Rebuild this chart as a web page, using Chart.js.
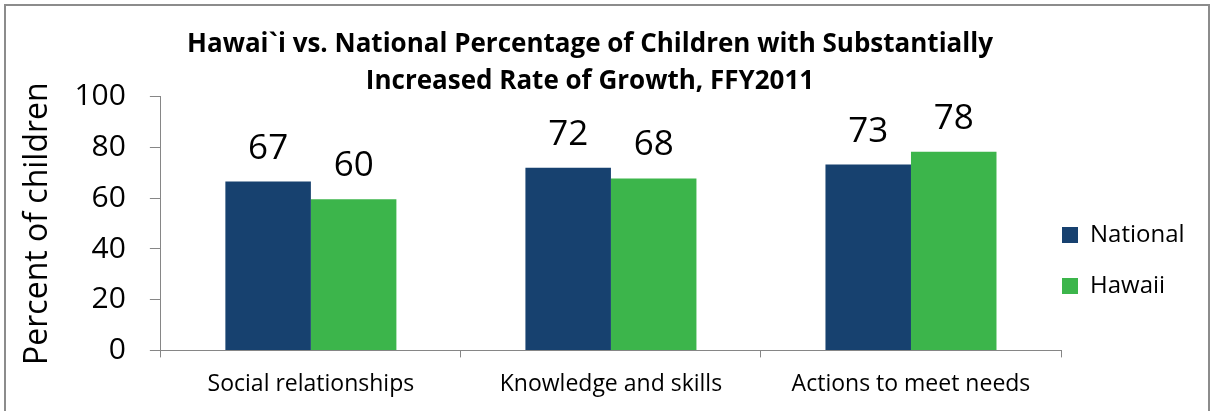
<!DOCTYPE html>
<html>
<head>
<meta charset="utf-8">
<script src="https://cdn.jsdelivr.net/npm/chart.js@4.4.1/dist/chart.umd.min.js"></script>
<style>
  body { margin: 0; background: #fff; }
  #frame { position: absolute; left: 4px; top: 4px; width: 1202px; height: 440px; border: 2px solid #8c8c8c; }
  #box { position: relative; width: 1202px; height: 417px; }
</style>
</head>
<body>
<div id="frame">
  <div id="box"><canvas id="chart"></canvas></div>
</div>
<script>
const categories = ["Social relationships", "Knowledge and skills", "Actions to meet needs"]
const nationalValues = [66.6, 72.0, 73.3]
const hawaiiValues = [59.6, 67.8, 78.3]
const yTicks = [0, 20, 40, 60, 80, 100]

const FONT = "'Open Sans', Lato, sans-serif"
const AXIS_GRAY = "#868686"

// value labels above each bar
const barLabels = {
    id: "barLabels",
    afterDatasetsDraw(chart) {
        const ctx = chart.ctx
        ctx.save()
        ctx.font = "35px " + FONT
        ctx.fillStyle = "#000"
        ctx.textAlign = "center"
        ctx.textBaseline = "alphabetic"
        chart.data.datasets.forEach((ds, i) => {
            chart.getDatasetMeta(i).data.forEach((bar, j) => {
                ctx.fillText(Math.round(ds.data[j]), bar.x, bar.y - 23)
            })
        })
        ctx.restore()
    }
}

// move legend next to the plot, like the office chart does
const legendNudge = {
    id: "legendNudge",
    afterLayout(chart) {
        const lg = chart.legend
        if (!lg) return
        const dx = chart.chartArea.right + 1 - (lg.left + lg.options.labels.padding)
        lg.left += dx
        lg.right = lg.left + 200
        lg.top += 52
        lg.bottom += 52
    }
}

const chart = new Chart(document.getElementById("chart"), {
    type: "bar",
    data: {
        labels: categories,
        datasets: [
            { label: "National", data: nationalValues, backgroundColor: "#17416F",
              categoryPercentage: 0.57, barPercentage: 1 },
            { label: "Hawaii", data: hawaiiValues, backgroundColor: "#3CB54B",
              categoryPercentage: 0.57, barPercentage: 1 }
        ]
    },
    options: {
        responsive: true,
        maintainAspectRatio: false,
        animation: false,
        layout: { padding: { left: 10, right: 44, top: 0, bottom: 12 } },
        plugins: {
            title: {
                display: true,
                text: ["Hawai`i vs. National Percentage of Children with Substantially",
                       "Increased Rate of Growth, FFY2011"],
                color: "#000",
                font: { family: FONT, size: 26, weight: "bold", lineHeight: 1.42 },
                padding: { top: 20, bottom: -3 }
            },
            legend: {
                position: "right",
                maxWidth: 103,
                labels: {
                    color: "#000",
                    font: { family: FONT, size: 24 },
                    boxWidth: 16,
                    boxHeight: 16,
                    padding: 27
                }
            },
            tooltip: { enabled: false }
        },
        scales: {
            x: {
                grid: { display: true, drawOnChartArea: false, color: AXIS_GRAY, tickLength: 7, offset: true },
                border: { color: AXIS_GRAY, width: 1 },
                ticks: { color: "#000", font: { family: FONT, size: 23 }, padding: 13, maxRotation: 0 }
            },
            y: {
                min: 0,
                max: 100,
                afterBuildTicks(scale) {
                    scale.ticks = yTicks.map(v => ({ value: v }))
                },
                grid: { display: true, drawOnChartArea: false, color: AXIS_GRAY, tickLength: 11 },
                border: { color: AXIS_GRAY, width: 1 },
                ticks: { color: "#000", font: { family: FONT, size: 30 }, padding: 24 },
                title: {
                    display: true,
                    text: "Percent of children",
                    color: "#000",
                    font: { family: FONT, size: 32 },
                    padding: { top: 3, bottom: -7 }
                }
            }
        }
    },
    plugins: [barLabels, legendNudge]
})
</script>
</body>
</html>
